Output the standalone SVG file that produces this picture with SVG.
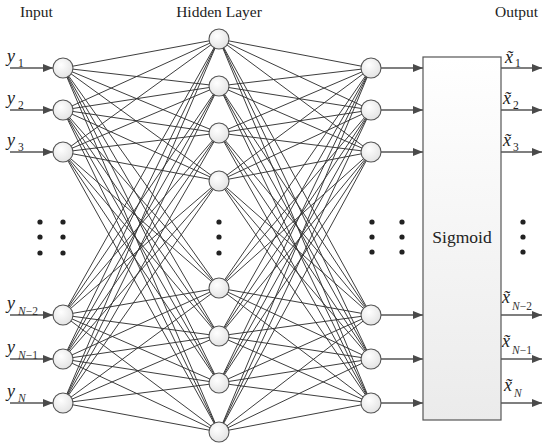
<svg xmlns="http://www.w3.org/2000/svg" width="543" height="445" viewBox="0 0 543 445">
  <style>
    .title { font-family: "Liberation Serif", "Times New Roman", serif; font-size: 15.5px; fill: #222; }
    .label { font-family: "Liberation Serif", "Times New Roman", serif; font-size: 17.5px; fill: #222; }
    .var { font-family: "Liberation Serif", "Times New Roman", serif; font-style: italic; font-size: 18px; fill: #222; }
    .sub { font-family: "Liberation Serif", "Times New Roman", serif; font-size: 11.5px; fill: #222; }
    .subi { font-family: "Liberation Serif", "Times New Roman", serif; font-style: italic; font-size: 11.5px; fill: #333; }
    .edge line { stroke: #333; stroke-width: 0.95; }
    .arrow { stroke: #555; stroke-width: 1.3; fill: none; marker-end: url(#head); }
    .node { fill: url(#nodeFill); stroke: #555; stroke-width: 1.1; }
    .dot { fill: #222; }
  </style>
  <defs>
    <radialGradient id="nodeFill" cx="0.4" cy="0.35" r="0.7">
      <stop offset="0" stop-color="#ffffff"/>
      <stop offset="1" stop-color="#e2e2e2"/>
    </radialGradient>
    <linearGradient id="boxFill" x1="0" y1="0" x2="0" y2="1">
      <stop offset="0" stop-color="#ffffff"/>
      <stop offset="1" stop-color="#ebebeb"/>
    </linearGradient>
    <marker id="head" viewBox="0 0 10 8" refX="10" refY="4" markerWidth="10" markerHeight="8" markerUnits="userSpaceOnUse" orient="auto">
      <path d="M0 0L10 4L0 8z" fill="#4a4a4a"/>
    </marker>
  </defs>

  <rect width="543" height="445" fill="#ffffff"/>

  <!-- column headings -->
  <text class="title" x="20" y="17">Input</text>
  <text class="title" x="219" y="17" text-anchor="middle">Hidden Layer</text>
  <text class="title" x="495" y="17">Output</text>

  <!-- full connections: input layer to hidden layer -->
  <g id="connectors" class="edge">
    <line x1="63" y1="68" x2="219" y2="39"/><line x1="63" y1="68" x2="219" y2="86"/><line x1="63" y1="68" x2="219" y2="133"/><line x1="63" y1="68" x2="219" y2="181"/><line x1="63" y1="68" x2="219" y2="288"/><line x1="63" y1="68" x2="219" y2="336"/><line x1="63" y1="68" x2="219" y2="383"/><line x1="63" y1="68" x2="219" y2="432"/>
    <line x1="63" y1="110" x2="219" y2="39"/><line x1="63" y1="110" x2="219" y2="86"/><line x1="63" y1="110" x2="219" y2="133"/><line x1="63" y1="110" x2="219" y2="181"/><line x1="63" y1="110" x2="219" y2="288"/><line x1="63" y1="110" x2="219" y2="336"/><line x1="63" y1="110" x2="219" y2="383"/><line x1="63" y1="110" x2="219" y2="432"/>
    <line x1="63" y1="152" x2="219" y2="39"/><line x1="63" y1="152" x2="219" y2="86"/><line x1="63" y1="152" x2="219" y2="133"/><line x1="63" y1="152" x2="219" y2="181"/><line x1="63" y1="152" x2="219" y2="288"/><line x1="63" y1="152" x2="219" y2="336"/><line x1="63" y1="152" x2="219" y2="383"/><line x1="63" y1="152" x2="219" y2="432"/>
    <line x1="63" y1="315" x2="219" y2="39"/><line x1="63" y1="315" x2="219" y2="86"/><line x1="63" y1="315" x2="219" y2="133"/><line x1="63" y1="315" x2="219" y2="181"/><line x1="63" y1="315" x2="219" y2="288"/><line x1="63" y1="315" x2="219" y2="336"/><line x1="63" y1="315" x2="219" y2="383"/><line x1="63" y1="315" x2="219" y2="432"/>
    <line x1="63" y1="359" x2="219" y2="39"/><line x1="63" y1="359" x2="219" y2="86"/><line x1="63" y1="359" x2="219" y2="133"/><line x1="63" y1="359" x2="219" y2="181"/><line x1="63" y1="359" x2="219" y2="288"/><line x1="63" y1="359" x2="219" y2="336"/><line x1="63" y1="359" x2="219" y2="383"/><line x1="63" y1="359" x2="219" y2="432"/>
    <line x1="63" y1="403" x2="219" y2="39"/><line x1="63" y1="403" x2="219" y2="86"/><line x1="63" y1="403" x2="219" y2="133"/><line x1="63" y1="403" x2="219" y2="181"/><line x1="63" y1="403" x2="219" y2="288"/><line x1="63" y1="403" x2="219" y2="336"/><line x1="63" y1="403" x2="219" y2="383"/><line x1="63" y1="403" x2="219" y2="432"/>

    <!-- hidden layer to output layer -->
    <line x1="219" y1="39" x2="371" y2="68"/><line x1="219" y1="39" x2="371" y2="110"/><line x1="219" y1="39" x2="371" y2="152"/><line x1="219" y1="39" x2="371" y2="315"/><line x1="219" y1="39" x2="371" y2="359"/><line x1="219" y1="39" x2="371" y2="403"/>
    <line x1="219" y1="86" x2="371" y2="68"/><line x1="219" y1="86" x2="371" y2="110"/><line x1="219" y1="86" x2="371" y2="152"/><line x1="219" y1="86" x2="371" y2="315"/><line x1="219" y1="86" x2="371" y2="359"/><line x1="219" y1="86" x2="371" y2="403"/>
    <line x1="219" y1="133" x2="371" y2="68"/><line x1="219" y1="133" x2="371" y2="110"/><line x1="219" y1="133" x2="371" y2="152"/><line x1="219" y1="133" x2="371" y2="315"/><line x1="219" y1="133" x2="371" y2="359"/><line x1="219" y1="133" x2="371" y2="403"/>
    <line x1="219" y1="181" x2="371" y2="68"/><line x1="219" y1="181" x2="371" y2="110"/><line x1="219" y1="181" x2="371" y2="152"/><line x1="219" y1="181" x2="371" y2="315"/><line x1="219" y1="181" x2="371" y2="359"/><line x1="219" y1="181" x2="371" y2="403"/>
    <line x1="219" y1="288" x2="371" y2="68"/><line x1="219" y1="288" x2="371" y2="110"/><line x1="219" y1="288" x2="371" y2="152"/><line x1="219" y1="288" x2="371" y2="315"/><line x1="219" y1="288" x2="371" y2="359"/><line x1="219" y1="288" x2="371" y2="403"/>
    <line x1="219" y1="336" x2="371" y2="68"/><line x1="219" y1="336" x2="371" y2="110"/><line x1="219" y1="336" x2="371" y2="152"/><line x1="219" y1="336" x2="371" y2="315"/><line x1="219" y1="336" x2="371" y2="359"/><line x1="219" y1="336" x2="371" y2="403"/>
    <line x1="219" y1="383" x2="371" y2="68"/><line x1="219" y1="383" x2="371" y2="110"/><line x1="219" y1="383" x2="371" y2="152"/><line x1="219" y1="383" x2="371" y2="315"/><line x1="219" y1="383" x2="371" y2="359"/><line x1="219" y1="383" x2="371" y2="403"/>
    <line x1="219" y1="432" x2="371" y2="68"/><line x1="219" y1="432" x2="371" y2="110"/><line x1="219" y1="432" x2="371" y2="152"/><line x1="219" y1="432" x2="371" y2="315"/><line x1="219" y1="432" x2="371" y2="359"/><line x1="219" y1="432" x2="371" y2="403"/>

    <!-- input arrows -->
    <path class="arrow" d="M10 68H53"/>
    <path class="arrow" d="M10 110H53"/>
    <path class="arrow" d="M10 152H53"/>
    <path class="arrow" d="M10 315H53"/>
    <path class="arrow" d="M10 359H53"/>
    <path class="arrow" d="M10 403H53"/>
    <!-- output layer into sigmoid -->
    <path class="arrow" d="M381 68H423"/>
    <path class="arrow" d="M381 110H423"/>
    <path class="arrow" d="M381 152H423"/>
    <path class="arrow" d="M381 315H423"/>
    <path class="arrow" d="M381 359H423"/>
    <path class="arrow" d="M381 403H423"/>
    <!-- sigmoid outputs -->
    <path class="arrow" d="M501 68H542"/>
    <path class="arrow" d="M501 110H542"/>
    <path class="arrow" d="M501 152H542"/>
    <path class="arrow" d="M501 315H542"/>
    <path class="arrow" d="M501 359H542"/>
    <path class="arrow" d="M501 403H542"/>
  </g>

  <!-- input layer -->
  <g id="in1"><circle class="node" cx="63" cy="68" r="10"/><text class="var" x="7" y="62">y</text><text class="sub" x="18" y="67">1</text></g>
  <g id="in2"><circle class="node" cx="63" cy="110" r="10"/><text class="var" x="7" y="104">y</text><text class="sub" x="18" y="109">2</text></g>
  <g id="in3"><circle class="node" cx="63" cy="152" r="10"/><text class="var" x="7" y="146">y</text><text class="sub" x="18" y="151">3</text></g>
  <g id="inN2"><circle class="node" cx="63" cy="315" r="10"/><text class="var" x="7" y="309">y</text><text class="subi" x="18" y="315">N<tspan font-style="normal">−2</tspan></text></g>
  <g id="inN1"><circle class="node" cx="63" cy="359" r="10"/><text class="var" x="7" y="353">y</text><text class="subi" x="18" y="359">N<tspan font-style="normal">−1</tspan></text></g>
  <g id="inN"><circle class="node" cx="63" cy="403" r="10"/><text class="var" x="7" y="397">y</text><text class="subi" x="18" y="402">N</text></g>
  <g id="inDots">
    <circle class="dot" cx="40" cy="222" r="2.6"/><circle class="dot" cx="63" cy="222" r="2.6"/>
    <circle class="dot" cx="40" cy="237" r="2.6"/><circle class="dot" cx="63" cy="237" r="2.6"/>
    <circle class="dot" cx="40" cy="253" r="2.6"/><circle class="dot" cx="63" cy="253" r="2.6"/>
  </g>

  <!-- hidden layer -->
  <g id="h1"><circle class="node" cx="219" cy="39" r="10"/></g>
  <g id="h2"><circle class="node" cx="219" cy="86" r="10"/></g>
  <g id="h3"><circle class="node" cx="219" cy="133" r="10"/></g>
  <g id="h4"><circle class="node" cx="219" cy="181" r="10"/></g>
  <g id="h5"><circle class="node" cx="219" cy="288" r="10"/></g>
  <g id="h6"><circle class="node" cx="219" cy="336" r="10"/></g>
  <g id="h7"><circle class="node" cx="219" cy="383" r="10"/></g>
  <g id="h8"><circle class="node" cx="219" cy="432" r="10"/></g>
  <g id="hDots">
    <circle class="dot" cx="219" cy="222" r="2.6"/>
    <circle class="dot" cx="219" cy="237" r="2.6"/>
    <circle class="dot" cx="219" cy="253" r="2.6"/>
  </g>

  <!-- output layer -->
  <g id="o1"><circle class="node" cx="371" cy="68" r="10"/></g>
  <g id="o2"><circle class="node" cx="371" cy="110" r="10"/></g>
  <g id="o3"><circle class="node" cx="371" cy="152" r="10"/></g>
  <g id="oN2"><circle class="node" cx="371" cy="315" r="10"/></g>
  <g id="oN1"><circle class="node" cx="371" cy="359" r="10"/></g>
  <g id="oN"><circle class="node" cx="371" cy="403" r="10"/></g>
  <g id="oDots">
    <circle class="dot" cx="372" cy="222" r="2.6"/><circle class="dot" cx="402" cy="222" r="2.6"/>
    <circle class="dot" cx="372" cy="237" r="2.6"/><circle class="dot" cx="402" cy="237" r="2.6"/>
    <circle class="dot" cx="372" cy="252" r="2.6"/><circle class="dot" cx="402" cy="252" r="2.6"/>
  </g>

  <!-- sigmoid block -->
  <g id="sigmoid">
    <rect x="423" y="57" width="78" height="363" fill="url(#boxFill)" stroke="#555" stroke-width="1.2"/>
    <text class="label" x="462" y="243" text-anchor="middle">Sigmoid</text>
  </g>

  <!-- reconstructed outputs -->
  <g id="x1"><text class="var" x="505" y="63">x̃</text><text class="sub" x="515" y="67">1</text></g>
  <g id="x2"><text class="var" x="503" y="104">x̃</text><text class="sub" x="513" y="109">2</text></g>
  <g id="x3"><text class="var" x="503" y="146">x̃</text><text class="sub" x="513" y="151">3</text></g>
  <g id="xN2"><text class="var" x="502" y="303">x̃</text><text class="subi" x="512" y="310">N<tspan font-style="normal">−2</tspan></text></g>
  <g id="xN1"><text class="var" x="502" y="347">x̃</text><text class="subi" x="512" y="354">N<tspan font-style="normal">−1</tspan></text></g>
  <g id="xN"><text class="var" x="504" y="391">x̃</text><text class="subi" x="514" y="397">N</text></g>
  <g id="xDots">
    <circle class="dot" cx="523" cy="222" r="2.6"/>
    <circle class="dot" cx="523" cy="237" r="2.6"/>
    <circle class="dot" cx="523" cy="252" r="2.6"/>
  </g>
</svg>
